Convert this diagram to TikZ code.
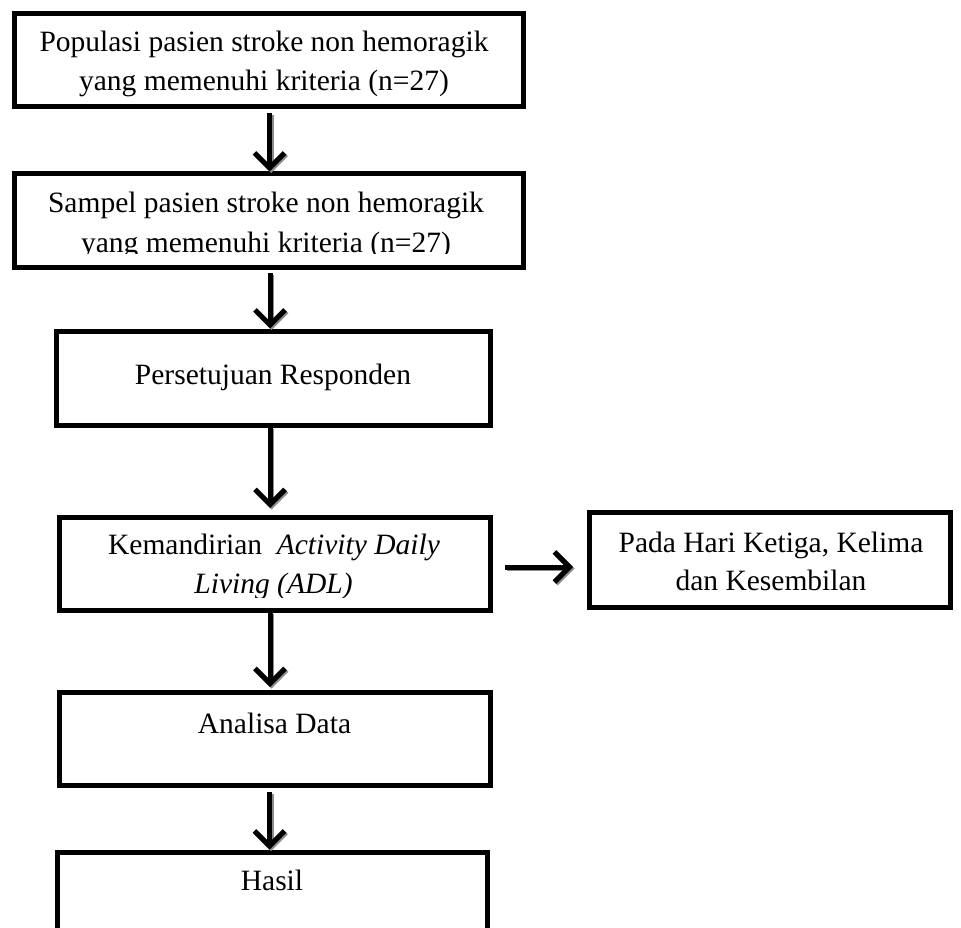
\documentclass[tikz,border=0pt]{standalone}
\usepackage{fontspec}
\setmainfont{Liberation Serif}
\usetikzlibrary{arrows.meta}
\begin{document}
\begin{tikzpicture}[x=1pt,y=-1pt,
  box/.style={draw=black, line width=5pt, inner sep=0pt, rectangle},
  txt/.style={font=\fontsize{29.5}{39}\selectfont, inner sep=0pt, anchor=base},
  arr/.style={draw=black, line width=5pt, -{Straight Barb[length=15pt,width=30pt]}},
  arrshadow/.style={arr, draw=black!45, transform canvas={shift={(1.6pt,-1.6pt)}}}
]
\clip (0,0) rectangle (961,928);
\fill[white] (0,0) rectangle (961,928);
% boxes
\node[box, minimum width=509pt, minimum height=93pt] (b1) at (268.5,60.5) {};
\node[box, minimum width=509pt, minimum height=93pt] (b2) at (268.5,220.5) {};
\node[box, minimum width=434pt, minimum height=94pt] (b3) at (273,378) {};
\node[box, minimum width=431pt, minimum height=93pt] (b4) at (274.5,563.5) {};
\node[box, minimum width=431pt, minimum height=93pt] (b5) at (274.5,738.5) {};
\node[box, minimum width=430pt, minimum height=93pt] (b6) at (272,898.5) {};
\node[box, minimum width=361pt, minimum height=95pt] (b7) at (769.5,559.5) {};
% texts
\node[txt] (t1a) at (264,52) {Populasi pasien stroke non hemoragik};
\node[txt] (t1b) at (264,91) {yang memenuhi kriteria (n=27)};
\node[txt] (t2a) at (266,213) {Sampel pasien stroke non hemoragik};
\begin{scope}
\clip (0,0) rectangle (961,253.5);
\node[txt] (t2b) at (266,252) {yang memenuhi kriteria (n=27)};
\end{scope}
\node[txt] (t3) at (273,384) {Persetujuan Responden};
\node[txt] (t4a) at (274,554) {Kemandirian~ \textit{Activity Daily}};
\begin{scope}
\clip (0,0) rectangle (961,597);
\node[txt] (t4b) at (273.5,593) {\textit{Living (ADL)}};
\end{scope}
\node[txt] (t5) at (274.5,733) {Analisa Data};
\node[txt] (t6) at (272,890) {Hasil};
\node[txt] (t7a) at (771,552) {Pada Hari Ketiga, Kelima};
\node[txt] (t7b) at (771,590) {dan Kesembilan};
% arrow shadows
\draw[arrshadow, shorten <=3.5pt] ([xshift=1pt]b1.south) -- ([xshift=1pt]b1.south |- b2.north);
\draw[arrshadow, shorten <=3.5pt] ([xshift=1.5pt]b2.south) -- ([xshift=1.5pt]b2.south |- b3.north);
\draw[arrshadow, shorten >=6.5pt] ([xshift=-3pt]b3.south) -- ([xshift=-3pt]b3.south |- b4.north);
\draw[arrshadow, shorten >=2.5pt] ([xshift=-4.5pt]b4.south) -- ([xshift=-4.5pt]b4.south |- b5.north);
\draw[arrshadow, shorten <=4.5pt] ([xshift=-5pt]b5.south) -- ([xshift=-5pt]b5.south |- b6.north);
\draw[arrshadow, shorten <=12.5pt, shorten >=13.5pt] ([yshift=-3.5pt]b4.east) -- ([yshift=-3.5pt]b4.east -| b7.west);
% arrows
\draw[arr, shorten <=3.5pt] ([xshift=1pt]b1.south) -- ([xshift=1pt]b1.south |- b2.north);
\draw[arr, shorten <=3.5pt] ([xshift=1.5pt]b2.south) -- ([xshift=1.5pt]b2.south |- b3.north);
\draw[arr, shorten >=6.5pt] ([xshift=-3pt]b3.south) -- ([xshift=-3pt]b3.south |- b4.north);
\draw[arr, shorten >=2.5pt] ([xshift=-4.5pt]b4.south) -- ([xshift=-4.5pt]b4.south |- b5.north);
\draw[arr, shorten <=4.5pt] ([xshift=-5pt]b5.south) -- ([xshift=-5pt]b5.south |- b6.north);
\draw[arr, shorten <=12.5pt, shorten >=13.5pt] ([yshift=-3.5pt]b4.east) -- ([yshift=-3.5pt]b4.east -| b7.west);
\end{tikzpicture}
\end{document}
